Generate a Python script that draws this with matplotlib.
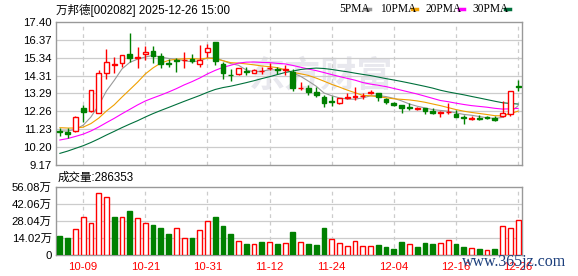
import numpy as np
import matplotlib
matplotlib.use('Agg')
import matplotlib.pyplot as plt
from matplotlib.lines import Line2D

plt.rcParams['font.family'] = ['Liberation Sans', 'Noto Sans CJK SC', 'DejaVu Sans']

# 交易日
dates = ['09-26', '09-29', '09-30',
         '10-09', '10-10', '10-13', '10-14', '10-15', '10-16', '10-17',
         '10-20', '10-21', '10-22', '10-23', '10-24',
         '10-27', '10-28', '10-29', '10-30', '10-31',
         '11-03', '11-04', '11-05', '11-06', '11-07',
         '11-10', '11-11', '11-12', '11-13', '11-14',
         '11-17', '11-18', '11-19', '11-20', '11-21',
         '11-24', '11-25', '11-26', '11-27', '11-28',
         '12-01', '12-02', '12-03', '12-04', '12-05',
         '12-08', '12-09', '12-10', '12-11', '12-12',
         '12-15', '12-16', '12-17', '12-18', '12-19',
         '12-22', '12-23', '12-24', '12-25', '12-26']

open_ = [11.15, 11.09, 11.13, 12.45, 12.30, 12.15, 14.45, 14.95, 15.06, 15.56,
         15.30, 15.54, 15.73, 15.44, 15.06, 15.22, 15.20, 15.26, 14.97, 15.69,
         16.25, 14.97, 14.36, 14.39, 14.56, 14.48, 14.56, 14.74, 14.70, 14.66,
         14.54, 13.60, 13.62, 13.39, 13.10, 12.83, 12.76, 13.04, 13.10, 13.12,
         13.33, 13.30, 12.97, 12.76, 12.62, 12.50, 12.41, 12.43, 12.30, 12.14,
         12.20, 12.11, 11.92, 11.79, 11.88, 11.95, 11.90, 11.99, 12.12, 13.70]
high = [11.30, 11.30, 11.97, 12.62, 13.47, 14.64, 15.83, 15.37, 15.52, 16.75,
        15.98, 16.02, 16.02, 15.60, 15.29, 15.31, 15.67, 15.56, 16.08, 16.13,
        16.25, 15.12, 14.68, 14.76, 14.81, 14.70, 14.83, 15.06, 14.83, 14.93,
        14.68, 13.97, 13.78, 13.68, 13.20, 13.14, 13.05, 13.30, 13.64, 13.30,
        13.50, 13.30, 13.00, 12.82, 12.65, 12.76, 12.50, 12.45, 12.43, 12.28,
        12.76, 12.34, 12.03, 12.01, 12.05, 12.00, 11.97, 12.85, 13.45, 14.06]
low = [10.85, 10.75, 11.07, 11.62, 12.20, 12.15, 14.14, 14.48, 14.79, 15.10,
       14.74, 15.21, 15.02, 14.77, 14.83, 14.54, 14.74, 15.06, 14.83, 15.40,
       14.95, 14.10, 14.03, 14.36, 14.37, 14.45, 14.39, 14.64, 14.39, 14.35,
       13.45, 13.49, 13.20, 13.07, 12.49, 12.57, 12.70, 12.95, 12.89, 12.95,
       13.25, 12.87, 12.70, 12.55, 12.15, 12.34, 12.35, 12.09, 12.12, 11.95,
       12.11, 11.93, 11.53, 11.78, 11.78, 11.80, 11.73, 11.95, 12.00, 13.45]
close = [11.08, 10.95, 11.95, 12.22, 13.47, 14.45, 15.08, 15.00, 15.50, 15.35,
         15.38, 15.70, 15.46, 15.00, 14.97, 15.18, 15.24, 15.18, 15.21, 15.88,
         15.15, 14.45, 14.33, 14.74, 14.52, 14.64, 14.59, 14.78, 14.66, 14.70,
         13.60, 13.63, 13.39, 13.20, 12.76, 12.80, 13.01, 13.07, 13.14, 13.16,
         13.37, 13.07, 12.80, 12.63, 12.43, 12.47, 12.44, 12.30, 12.15, 12.20,
         12.23, 11.95, 11.88, 11.90, 11.84, 11.86, 11.77, 12.18, 13.43, 13.66]
# 成交量（万手）
volume = [15.4, 13.7, 21.6, 31.3, 26.4, 51.5, 47.7, 31.5, 31.3, 36.4,
          30.5, 26.4, 25.1, 22.6, 17.0, 22.4, 14.3, 13.7, 20.8, 28.0,
          31.5, 24.3, 17.0, 11.9, 8.9, 9.4, 10.5, 10.5, 8.9, 10.2,
          19.0, 10.4, 8.9, 8.1, 22.0, 12.8, 9.6, 7.2, 11.2, 7.6,
          7.2, 8.4, 6.7, 5.1, 10.5, 8.9, 6.7, 9.7, 9.2, 9.7,
          12.4, 9.2, 6.7, 5.7, 5.1, 4.0, 5.1, 24.3, 22.1, 28.6353]
# 窗口前 29 日收盘价（用于均线）
pre_close = [7.0, 7.3, 7.6, 7.9, 8.2, 8.4, 8.7, 9.0, 9.3, 9.6,
             9.3, 9.5, 9.6, 9.8, 9.9, 10.0, 10.1, 10.2, 10.3, 10.3,
             11.15, 11.95, 11.72, 11.40, 11.33, 10.95, 11.45, 11.05, 11.10]

price_ticks = ['9.17', '10.20', '11.23', '12.26', '13.29', '14.31', '15.34', '16.37', '17.40']
vol_ticks = ['0', '14.02万', '28.04万', '42.06万', '56.08万']
date_ticks = ['10-09', '10-21', '10-31', '11-12', '11-24', '12-04', '12-16', '12-26']

ma_windows = [5, 10, 20, 30]
ma_colors = ['#999999', '#f0a000', '#ff00ff', '#00703c']
ma_names = ['5PMA', '10PMA', '20PMA', '30PMA']

RED = '#ff0000'
GREEN = '#008000'
W, H = 578, 276

fig = plt.figure(figsize=(W / 100, H / 100), dpi=100)
ax = fig.add_axes([56 / W, 1 - 165 / H, 466 / W, 143 / H])
axv = fig.add_axes([56 / W, 1 - 255 / H, 466 / W, 68 / H])

n = len(close)
x = np.arange(n)
o = np.array(open_); c = np.array(close); hi = np.array(high); lo = np.array(low)
up = c >= o

# 水印
ax.text(0.57, 0.62, '东方财富', transform=ax.transAxes, fontsize=26, fontweight='bold',
        color='#e8e8ee', ha='center', va='center', zorder=0, family=['Noto Sans CJK SC'])

# 均线
allc = np.array(pre_close + close)
for win, col in zip(ma_windows, ma_colors):
    ma = np.array([allc[i + 30 - win:i + 30].mean() for i in range(n)])
    ax.plot(x, ma, color=col, lw=0.8, zorder=3)

# K线
bw = 0.62
for i in range(n):
    col = RED if up[i] else GREEN
    bot, top = min(o[i], c[i]), max(o[i], c[i])
    ax.vlines(x[i], lo[i], bot, color=col, lw=1.0, zorder=4)
    ax.vlines(x[i], top, hi[i], color=col, lw=1.0, zorder=4)
    hgt = max(top - bot, 0.02)
    ax.bar(x[i], hgt, bottom=bot, width=bw, facecolor='white' if up[i] else GREEN,
           edgecolor=col, lw=1.0, zorder=5)

# 成交量：按收盘价涨跌着色
prev = np.concatenate([[pre_close[-1]], c[:-1]])
vup = c > prev
for i in range(n):
    if vup[i]:
        axv.bar(x[i], volume[i], width=0.62, facecolor='white', edgecolor=RED, lw=1.0, zorder=3)
    else:
        axv.bar(x[i], volume[i], width=0.62, facecolor=GREEN, edgecolor=GREEN, lw=1.0, zorder=3)

tick_idx = [dates.index(d) for d in date_ticks]
for a in (ax, axv):
    a.set_xlim(-0.5, n - 0.5)
    for t in tick_idx:
        a.axvline(t, color='#cccccc', ls=(0, (3, 3)), lw=0.9, zorder=1)
    for s in a.spines.values():
        s.set_color('#999999')
        s.set_linewidth(1.0)
    a.tick_params(length=0, labelsize=8.2, pad=3)

ax.set_ylim(9.17, 17.40)
pt = np.linspace(9.17, 17.40, len(price_ticks))
ax.set_yticks(pt)
ax.set_yticklabels(price_ticks)
for v in pt[1:-1]:
    ax.axhline(v, color='#cccccc', lw=0.9, zorder=1)
ax.set_xticks([])

axv.set_ylim(0, 56.08)
vt = np.linspace(0, 56.08, len(vol_ticks))
axv.set_yticks(vt)
axv.set_yticklabels(vol_ticks)
for v in vt[1:-1]:
    axv.axhline(v, color='#cccccc', lw=0.9, zorder=1)
axv.set_xticks(tick_idx)
axv.set_xticklabels(date_ticks, color=RED, fontsize=8.2)
axv.tick_params(axis='x', pad=5)

# 标题与图例
fig.text(56 / W, 1 - 10 / H, '万邦德[002082] 2025-12-26 15:00', fontsize=8.3,
         ha='left', va='center')
fig.text(58 / W, 1 - 178 / H, '成交量:%d' % round(volume[-1] * 10000), fontsize=8.3,
         ha='left', va='center')
lx = [339, 380, 426, 472]
dx = [365, 412, 459, 505]
for name, col, tx, d in zip(ma_names, ma_colors, lx, dx):
    fig.text(tx / W, 1 - 9 / H, name, fontsize=8.3, ha='left', va='center',
             family=['Liberation Serif'])
    fig.add_artist(Line2D([d / W, (d + 5) / W], [1 - 9 / H, 1 - 9 / H], color=col, lw=2.5))

fig.text(514 / W, 1 - 262 / H, 'www.365jz.com', fontsize=11.5, ha='center', va='center',
         color='#1c3f7c', family=['Liberation Serif'])

fig.savefig('out.png', dpi=100)
